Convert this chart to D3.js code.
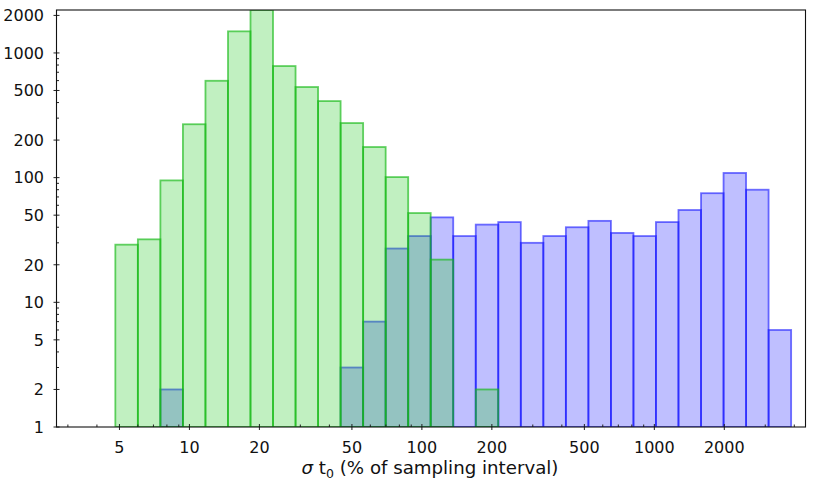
<!DOCTYPE html>
<html>
<head>
<meta charset="utf-8">
<script src="https://cdn.jsdelivr.net/npm/d3@7/dist/d3.min.js"></script>
<style>
  html, body { margin: 0; padding: 0; background: #fff; }
  svg { display: block; }
  text { font-family: "DejaVu Sans", sans-serif; fill: #111; }
</style>
</head>
<body>
<svg id="chart" width="830" height="487"></svg>
<script>
// Bin edges (σ t0, % of sampling interval), log-spaced
const binEdges = [4.8, 6, 7.5, 9.375, 11.72, 14.65, 18.31, 22.89, 28.61, 35.76,
  44.70, 55.88, 69.85, 87.31, 109.1, 136.4, 170.5, 213.1, 266.4, 333.0,
  416.3, 520.4, 650.5, 813.1, 1016, 1270, 1588, 1985, 2481, 3101, 3877];
// Green histogram counts (per bin)
const greenCounts = [29, 32, 95, 268, 598, 1490, 2210, 785, 533, 411,
  274, 176, 101, 52, 22, 0, 2, 0, 0, 0,
  0, 0, 0, 0, 0, 0, 0, 0, 0, 0];
// Blue histogram counts (per bin)
const blueCounts = [0, 0, 2, 0, 0, 0, 0, 0, 0, 0,
  3, 7, 27, 34, 48, 34, 42, 44, 30, 34,
  40, 45, 36, 34, 44, 55, 75, 109, 80, 6];
// Tick values
const xTicks = [5, 10, 20, 50, 100, 200, 500, 1000, 2000];
const yTicks = [1, 2, 5, 10, 20, 50, 100, 200, 500, 1000, 2000];
const xLabel = "σ t₀ (% of sampling interval)";

const svg = d3.select("#chart");
const L = 56.5, R = 805.5, T = 10, B = 427;

const x = d3.scaleLog().domain([2.68, 4470]).range([L, R]);
const y = d3.scaleLog().domain([1, 2210]).range([B, T]);

function bins(counts) {
  return counts.map((c, i) => ({x0: binEdges[i], x1: binEdges[i + 1], c}))
               .filter(d => d.c > 0);
}

const plot = svg.append("g");
plot.append("clipPath").attr("id", "clip")
  .append("rect").attr("x", L).attr("y", T).attr("width", R - L).attr("height", B - T);
const bars = plot.append("g").attr("clip-path", "url(#clip)");

bars.selectAll("rect.blue").data(bins(blueCounts)).join("rect")
  .attr("class", "blue")
  .attr("x", d => x(d.x0)).attr("width", d => x(d.x1) - x(d.x0))
  .attr("y", d => y(d.c)).attr("height", d => B - y(d.c))
  .attr("fill", "rgba(0,0,255,0.25)")
  .attr("stroke", "rgba(20,20,255,0.6)")
  .attr("stroke-width", 1.8);

bars.selectAll("rect.green").data(bins(greenCounts)).join("rect")
  .attr("class", "green")
  .attr("x", d => x(d.x0)).attr("width", d => x(d.x1) - x(d.x0))
  .attr("y", d => y(d.c)).attr("height", d => B - y(d.c))
  .attr("fill", "rgba(50,205,50,0.3)")
  .attr("stroke", "rgba(20,185,20,0.65)")
  .attr("stroke-width", 1.8);

// Minor ticks
const xMinor = [];
[1, 10, 100, 1000].forEach(dec => [2,3,4,5,6,7,8,9].forEach(m => {
  const v = m * dec; if (v > 2.68 && v < 4470 && !xTicks.includes(v)) xMinor.push(v);
}));
const yMinor = [];
[1, 10, 100, 1000].forEach(dec => [2,3,4,5,6,7,8,9].forEach(m => {
  const v = m * dec; if (v > 1 && v < 2210 && !yTicks.includes(v)) yMinor.push(v);
}));

const axes = svg.append("g").attr("stroke", "#222").attr("stroke-width", 1);
axes.selectAll("line.xm").data(xMinor).join("line")
  .attr("x1", d => x(d)).attr("x2", d => x(d)).attr("y1", B).attr("y2", B - 2.5);
axes.selectAll("line.ym").data(yMinor).join("line")
  .attr("y1", d => y(d)).attr("y2", d => y(d)).attr("x1", L).attr("x2", L + 2.5);
axes.selectAll("line.xM").data(xTicks).join("line")
  .attr("x1", d => x(d)).attr("x2", d => x(d)).attr("y1", B - 3).attr("y2", B + 3);
axes.selectAll("line.yM").data(yTicks).join("line")
  .attr("y1", d => y(d)).attr("y2", d => y(d)).attr("x1", L - 3).attr("x2", L + 3);

// Frame
svg.append("rect").attr("x", L).attr("y", T).attr("width", R - L).attr("height", B - T)
  .attr("fill", "none").attr("stroke", "#111").attr("stroke-width", 1.1);

// Tick labels
svg.append("g").selectAll("text").data(xTicks).join("text")
  .attr("x", d => x(d)).attr("y", 452.5).attr("text-anchor", "middle")
  .attr("font-size", 16).text(d => d);
svg.append("g").selectAll("text").data(yTicks).join("text")
  .attr("x", 44).attr("y", d => y(d)).attr("dy", "0.36em").attr("text-anchor", "end")
  .attr("font-size", 16).text(d => d);

// Axis label
const lab = svg.append("text").attr("x", (L + R) / 2 - 1).attr("y", 474)
  .attr("text-anchor", "middle").attr("font-size", 18.2);
lab.append("tspan").attr("font-style", "italic").text(xLabel.slice(0, 1));
lab.append("tspan").text(xLabel.slice(1, 3));
lab.append("tspan").attr("font-size", 12.5).attr("dy", 3.5).text("0");
lab.append("tspan").attr("dy", -3.5).text(xLabel.slice(4));
</script>
</body>
</html>
